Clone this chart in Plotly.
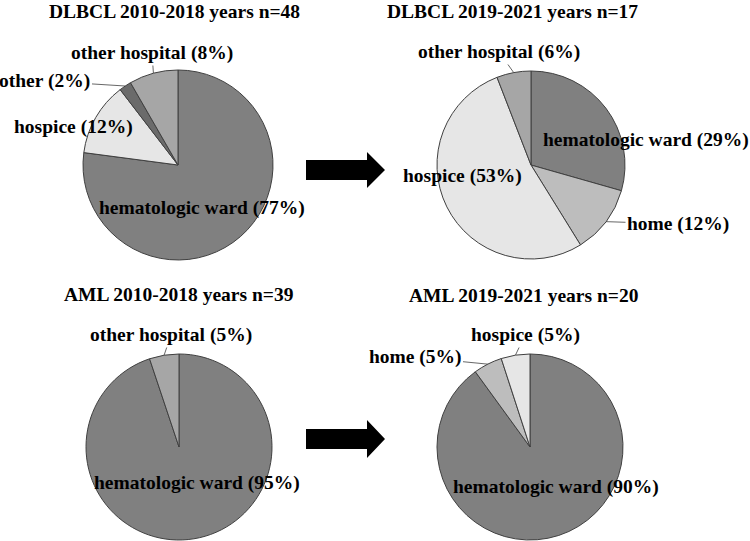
import math
import plotly.graph_objects as go

W, H = 750, 541

# ---- data (counts) ----
titles = ["DLBCL 2010-2018 years n=48", "DLBCL 2019-2021 years n=17",
          "AML 2010-2018 years n=39", "AML 2019-2021 years n=20"]
labels_1 = ["hematologic ward", "hospice", "other", "other hospital"]
values_1 = [37, 6, 1, 4]
labels_2 = ["hematologic ward", "home", "hospice", "other hospital"]
values_2 = [5, 2, 9, 1]
labels_3 = ["hematologic ward", "other hospital"]
values_3 = [37, 2]
labels_4 = ["hematologic ward", "home", "hospice"]
values_4 = [18, 1, 1]

colors = {"hematologic ward": "#808080", "hospice": "#e6e6e6", "other": "#6b6b6b",
          "other hospital": "#a6a6a6", "home": "#bdbdbd"}

# ---- layout (pixel positions) ----
centers = [(178, 165), (531, 165), (179, 447), (530, 447)]
radii = [95, 94, 93, 93]
title_pos = [(174, 12), (512, 12), (179, 294), (523, 295)]
# label text centers (px) and whether a leader line is drawn
label_pos = [
    {"hematologic ward": (202, 208, False), "hospice": (73, 127, False),
     "other": (45, 81, True), "other hospital": (152, 53, True)},
    {"hematologic ward": (646, 140, False), "home": (678, 224, True),
     "hospice": (463, 176, False), "other hospital": (499, 52, True)},
    {"hematologic ward": (197, 483, False), "other hospital": (171, 335, True)},
    {"hematologic ward": (556, 487, False), "home": (415, 357, True),
     "hospice": (525, 335, True)},
]

datasets = [(labels_1, values_1), (labels_2, values_2), (labels_3, values_3), (labels_4, values_4)]

def px(x):
    return min(max(x / W, 0), 1)

def py(y):
    return min(max(1 - y / H, 0), 1)

fig = go.Figure()
annotations = []
FONT = "Liberation Serif"
LSIZE = 19.5
TSIZE = 19.5

for i, (labs, vals) in enumerate(datasets):
    cx, cy = centers[i]
    R = radii[i]
    fig.add_trace(go.Pie(
        labels=labs, values=vals, sort=False, direction="clockwise", rotation=0,
        textinfo="none", hoverinfo="label+percent", showlegend=False,
        marker=dict(colors=[colors[l] for l in labs], line=dict(color="#404040", width=1)),
        domain=dict(x=[px(cx - R), px(cx + R)], y=[py(cy + R), py(cy - R)]),
    ))
    tx, ty = title_pos[i]
    annotations.append(dict(x=px(tx), y=py(ty), xref="paper", yref="paper", showarrow=False,
                            xanchor="center", yanchor="middle",
                            text="<b>%s</b>" % titles[i],
                            font=dict(family=FONT, size=TSIZE, color="black")))
    total = sum(vals)
    cum = 0
    for lab, v in zip(labs, vals):
        pct = round(100 * v / total)
        mid = (cum + v / 2) / total * 2 * math.pi
        cum += v
        txt = "<b>%s (%d%%)</b>" % (lab, pct)
        lx, ly, leader = label_pos[i][lab]
        if leader:
            ex = cx + R * math.sin(mid)
            ey = cy - R * math.cos(mid)
            annotations.append(dict(x=px(ex), y=py(ey), xref="paper", yref="paper",
                                    ax=lx - ex, ay=ly - ey, showarrow=True, arrowhead=0,
                                    arrowwidth=0.8, arrowcolor="#404040", text=txt,
                                    xanchor="center", yanchor="middle",
                                    font=dict(family=FONT, size=LSIZE, color="black")))
        else:
            annotations.append(dict(x=px(lx), y=py(ly), xref="paper", yref="paper",
                                    showarrow=False, text=txt,
                                    xanchor="center", yanchor="middle",
                                    font=dict(family=FONT, size=LSIZE, color="black")))

def arrow_path(x0, x1, xt, yc, bh, hh):
    pts = [(x0, yc - bh), (x1, yc - bh), (x1, yc - hh), (xt, yc), (x1, yc + hh),
           (x1, yc + bh), (x0, yc + bh)]
    return "M " + " L ".join("%.5f,%.5f" % (px(a), py(b)) for a, b in pts) + " Z"

shapes = [
    dict(type="path", xref="paper", yref="paper", path=arrow_path(306, 367, 385, 170, 10, 18),
         fillcolor="black", line=dict(width=0)),
    dict(type="path", xref="paper", yref="paper", path=arrow_path(306, 367, 385, 439, 10, 19),
         fillcolor="black", line=dict(width=0)),
]

fig.update_layout(width=W, height=H, margin=dict(l=0, r=0, t=0, b=0),
                  paper_bgcolor="white", plot_bgcolor="white",
                  annotations=annotations, shapes=shapes)

fig.write_html("out.html", config={"displayModeBar": False},
               post_script="document.body.style.margin='0';document.body.style.padding='0';")
